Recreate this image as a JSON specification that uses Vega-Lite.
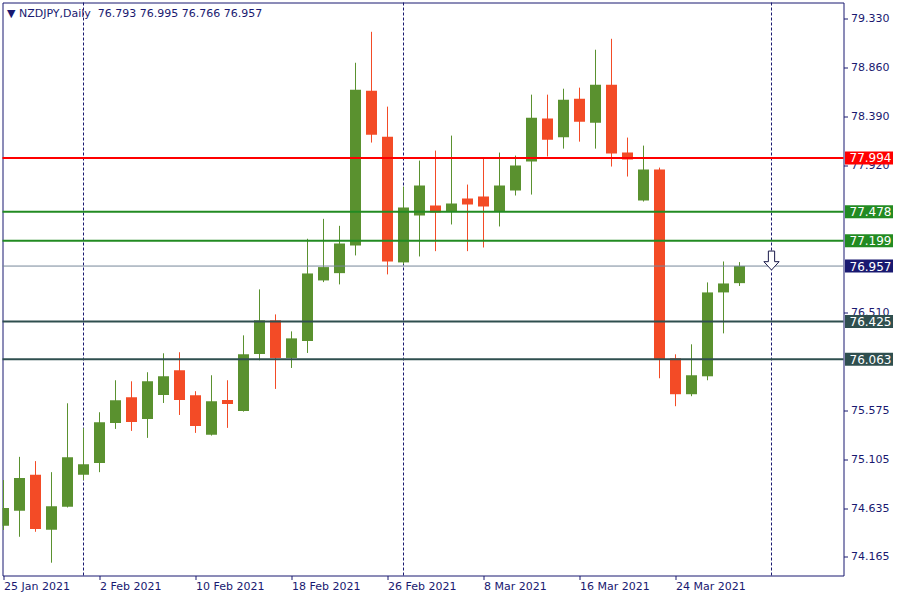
{
  "$schema": "https://vega.github.io/schema/vega-lite/v6.json",
  "width": 841,
  "height": 573,
  "autosize": {"type": "none"},
  "padding": {"left": 2.5, "top": 2.5, "right": 56.5, "bottom": 24.5},
  "background": "#ffffff",
  "config": {
    "view": {"stroke": "#191970", "strokeWidth": 1},
    "font": "DejaVu Sans",
    "scale": {"continuousPadding": 0},
    "axisX": {
      "labelExpr": "['25 Jan 2021','2 Feb 2021','10 Feb 2021','18 Feb 2021','26 Feb 2021','8 Mar 2021','16 Mar 2021','24 Mar 2021'][round(datum.value/6)]",
      "labelAlign": "left",
      "labelBaseline": "top",
      "labelPadding": 1,
      "labelFlush": false,
      "labelOverlap": false,
      "labelBound": false,
      "labelFont": "DejaVu Sans",
      "labelFontSize": 11,
      "labelColor": "#191970",
      "tickColor": "#191970",
      "tickSize": 4,
      "domain": false,
      "grid": false,
      "title": null
    },
    "axisY": {
      "format": ".3f",
      "labelPadding": 3,
      "labelFont": "DejaVu Sans",
      "labelFontSize": 11,
      "labelColor": "#191970",
      "labelBaseline": "middle",
      "labelAlign": "left",
      "labelOverlap": false,
      "labelBound": false,
      "labelFlush": false,
      "tickColor": "#191970",
      "tickSize": 4,
      "domain": false,
      "grid": false,
      "title": null
    }
  },
  "title": {
    "text": "▼ NZDJPY,Daily\u00a0\u00a076.793 76.995 76.766 76.957",
    "anchor": "start",
    "frame": "group",
    "orient": "top",
    "offset": 0,
    "dx": 4.5,
    "dy": 23,
    "baseline": "middle",
    "font": "DejaVu Sans",
    "fontSize": 11,
    "fontWeight": "normal",
    "color": "#191970"
  },
  "datasets": {
    "candles": [
      {"i": 0, "date": "2021-01-25", "o": 74.465, "h": 74.903, "l": 74.424, "c": 74.634},
      {"i": 1, "date": "2021-01-26", "o": 74.608, "h": 75.126, "l": 74.359, "c": 74.922},
      {"i": 2, "date": "2021-01-27", "o": 74.953, "h": 75.085, "l": 74.407, "c": 74.433},
      {"i": 3, "date": "2021-01-28", "o": 74.426, "h": 74.979, "l": 74.110, "c": 74.653},
      {"i": 4, "date": "2021-01-29", "o": 74.647, "h": 75.640, "l": 74.640, "c": 75.123},
      {"i": 5, "date": "2021-02-01", "o": 74.953, "h": 75.401, "l": 74.903, "c": 75.056},
      {"i": 6, "date": "2021-02-02", "o": 75.068, "h": 75.554, "l": 74.979, "c": 75.458},
      {"i": 7, "date": "2021-02-03", "o": 75.452, "h": 75.861, "l": 75.394, "c": 75.669},
      {"i": 8, "date": "2021-02-04", "o": 75.698, "h": 75.851, "l": 75.375, "c": 75.461},
      {"i": 9, "date": "2021-02-05", "o": 75.490, "h": 75.938, "l": 75.308, "c": 75.851},
      {"i": 10, "date": "2021-02-08", "o": 75.720, "h": 76.120, "l": 75.643, "c": 75.899},
      {"i": 11, "date": "2021-02-09", "o": 75.957, "h": 76.130, "l": 75.528, "c": 75.672},
      {"i": 12, "date": "2021-02-10", "o": 75.717, "h": 75.756, "l": 75.356, "c": 75.423},
      {"i": 13, "date": "2021-02-11", "o": 75.337, "h": 75.909, "l": 75.330, "c": 75.660},
      {"i": 14, "date": "2021-02-12", "o": 75.672, "h": 75.861, "l": 75.404, "c": 75.634},
      {"i": 15, "date": "2021-02-15", "o": 75.567, "h": 76.292, "l": 75.560, "c": 76.110},
      {"i": 16, "date": "2021-02-16", "o": 76.113, "h": 76.733, "l": 76.053, "c": 76.436},
      {"i": 17, "date": "2021-02-17", "o": 76.436, "h": 76.493, "l": 75.778, "c": 76.075},
      {"i": 18, "date": "2021-02-18", "o": 76.075, "h": 76.330, "l": 75.979, "c": 76.263},
      {"i": 19, "date": "2021-02-19", "o": 76.238, "h": 77.219, "l": 76.123, "c": 76.886},
      {"i": 20, "date": "2021-02-22", "o": 76.819, "h": 77.410, "l": 76.803, "c": 76.947},
      {"i": 21, "date": "2021-02-23", "o": 76.889, "h": 77.343, "l": 76.781, "c": 77.174},
      {"i": 22, "date": "2021-02-24", "o": 77.155, "h": 78.908, "l": 77.059, "c": 78.650},
      {"i": 23, "date": "2021-02-25", "o": 78.640, "h": 79.205, "l": 78.142, "c": 78.218},
      {"i": 24, "date": "2021-02-26", "o": 78.199, "h": 78.487, "l": 76.877, "c": 77.001},
      {"i": 25, "date": "2021-03-01", "o": 76.992, "h": 77.720, "l": 76.975, "c": 77.519},
      {"i": 26, "date": "2021-03-02", "o": 77.442, "h": 77.969, "l": 77.049, "c": 77.730},
      {"i": 27, "date": "2021-03-03", "o": 77.538, "h": 78.065, "l": 77.100, "c": 77.471},
      {"i": 28, "date": "2021-03-04", "o": 77.480, "h": 78.209, "l": 77.356, "c": 77.557},
      {"i": 29, "date": "2021-03-05", "o": 77.605, "h": 77.739, "l": 77.100, "c": 77.548},
      {"i": 30, "date": "2021-03-08", "o": 77.624, "h": 77.988, "l": 77.135, "c": 77.528},
      {"i": 31, "date": "2021-03-09", "o": 77.478, "h": 78.046, "l": 77.337, "c": 77.730},
      {"i": 32, "date": "2021-03-10", "o": 77.682, "h": 78.017, "l": 77.634, "c": 77.921},
      {"i": 33, "date": "2021-03-11", "o": 77.960, "h": 78.602, "l": 77.643, "c": 78.381},
      {"i": 34, "date": "2021-03-12", "o": 78.372, "h": 78.602, "l": 78.008, "c": 78.170},
      {"i": 35, "date": "2021-03-15", "o": 78.193, "h": 78.659, "l": 78.084, "c": 78.554},
      {"i": 36, "date": "2021-03-16", "o": 78.563, "h": 78.669, "l": 78.151, "c": 78.343},
      {"i": 37, "date": "2021-03-17", "o": 78.333, "h": 79.033, "l": 78.084, "c": 78.698},
      {"i": 38, "date": "2021-03-18", "o": 78.698, "h": 79.138, "l": 77.912, "c": 78.036},
      {"i": 39, "date": "2021-03-19", "o": 78.046, "h": 78.190, "l": 77.816, "c": 77.979},
      {"i": 40, "date": "2021-03-22", "o": 77.586, "h": 78.113, "l": 77.576, "c": 77.883},
      {"i": 41, "date": "2021-03-23", "o": 77.883, "h": 77.902, "l": 75.880, "c": 76.065},
      {"i": 42, "date": "2021-03-24", "o": 76.072, "h": 76.110, "l": 75.612, "c": 75.727},
      {"i": 43, "date": "2021-03-25", "o": 75.727, "h": 76.206, "l": 75.708, "c": 75.909},
      {"i": 44, "date": "2021-03-26", "o": 75.899, "h": 76.800, "l": 75.861, "c": 76.704},
      {"i": 45, "date": "2021-03-29", "o": 76.704, "h": 77.001, "l": 76.311, "c": 76.790},
      {"i": 46, "date": "2021-03-30", "o": 76.793, "h": 76.995, "l": 76.766, "c": 76.957}
    ],
    "months": [
      {"i": 5, "date": "2021-02-01"},
      {"i": 25, "date": "2021-03-01"},
      {"i": 48, "date": "2021-04-01"}
    ],
    "levels": [
      {"name": "77.994", "v": 77.994},
      {"name": "77.478", "v": 77.478},
      {"name": "77.199", "v": 77.199},
      {"name": "76.957", "v": 76.957},
      {"name": "76.425", "v": 76.425},
      {"name": "76.063", "v": 76.063}
    ],
    "signal": [
      {"i": 48, "v": 77.01}
    ]
  },
  "layer": [
    {
      "data": {"name": "months"},
      "mark": {"type": "rule", "stroke": "#191970", "strokeWidth": 1, "strokeDash": [3, 2]},
      "encoding": {
        "x": {"field": "i", "type": "quantitative", "scale": {"domain": [-0.0625, 52.5], "nice": false, "zero": false, "padding": 0}, "axis": {"orient": "bottom", "title": null, "values": [0, 6, 12, 18, 24, 30, 36, 42]}}
      }
    },
    {
      "data": {"name": "candles"},
      "mark": {"type": "rule", "strokeWidth": 1, "clip": true},
      "encoding": {
        "x": {"field": "i", "type": "quantitative", "scale": {"domain": [-0.0625, 52.5], "nice": false, "zero": false, "padding": 0}, "axis": {"orient": "bottom", "title": null, "values": [0, 6, 12, 18, 24, 30, 36, 42]}},
        "y": {"field": "l", "type": "quantitative", "scale": {"domain": [73.9873, 79.4863], "nice": false, "zero": false, "padding": 0}, "axis": {"orient": "right", "title": null, "values": [79.33, 78.86, 78.39, 77.92, 76.51, 75.575, 75.105, 74.635, 74.165]}},
        "y2": {"field": "h"},
        "color": {"condition": {"test": "datum.c >= datum.o", "value": "#5a912f"}, "value": "#f34b26"}
      }
    },
    {
      "data": {"name": "candles"},
      "mark": {"type": "bar", "orient": "vertical", "size": 11, "clip": true},
      "encoding": {
        "x": {"field": "i", "type": "quantitative", "scale": {"domain": [-0.0625, 52.5], "nice": false, "zero": false, "padding": 0}, "axis": {"orient": "bottom", "title": null, "values": [0, 6, 12, 18, 24, 30, 36, 42]}},
        "y": {"field": "o", "type": "quantitative", "scale": {"domain": [73.9873, 79.4863], "nice": false, "zero": false, "padding": 0}, "axis": {"orient": "right", "title": null, "values": [79.33, 78.86, 78.39, 77.92, 76.51, 75.575, 75.105, 74.635, 74.165]}},
        "y2": {"field": "c"},
        "color": {"condition": {"test": "datum.c >= datum.o", "value": "#5a912f"}, "value": "#f34b26"}
      }
    },
    {
      "data": {"name": "levels"},
      "mark": {"type": "rule"},
      "encoding": {
        "y": {"field": "v", "type": "quantitative", "scale": {"domain": [73.9873, 79.4863], "nice": false, "zero": false, "padding": 0}, "axis": {"orient": "right", "title": null, "values": [79.33, 78.86, 78.39, 77.92, 76.51, 75.575, 75.105, 74.635, 74.165]}},
        "color": {
          "condition": {"test": "datum.name == '76.957'", "value": "#778899"},
          "field": "name", "type": "nominal",
          "scale": {"domain": ["77.994", "77.478", "77.199", "76.957", "76.425", "76.063"], "range": ["#ff0000", "#228b22", "#228b22", "#191970", "#2f4f4f", "#2f4f4f"]},
          "legend": null
        },
        "strokeWidth": {"condition": {"test": "datum.name == '76.957'", "value": 1}, "value": 2}
      }
    },
    {
      "data": {"name": "signal"},
      "mark": {
        "type": "point",
        "shape": "M -0.33 -1 L 0.33 -1 L 0.33 0.12 L 0.8 0.12 L 0 1 L -0.8 0.12 L -0.33 0.12 Z",
        "size": 361,
        "filled": true,
        "fill": "#ffffff",
        "stroke": "#1a1a4a",
        "strokeWidth": 1,
        "opacity": 1
      },
      "encoding": {
        "x": {"field": "i", "type": "quantitative", "scale": {"domain": [-0.0625, 52.5], "nice": false, "zero": false, "padding": 0}, "axis": {"orient": "bottom", "title": null, "values": [0, 6, 12, 18, 24, 30, 36, 42]}},
        "y": {"field": "v", "type": "quantitative", "scale": {"domain": [73.9873, 79.4863], "nice": false, "zero": false, "padding": 0}, "axis": {"orient": "right", "title": null, "values": [79.33, 78.86, 78.39, 77.92, 76.51, 75.575, 75.105, 74.635, 74.165]}}
      }
    },
    {
      "data": {"name": "levels"},
      "mark": {"type": "bar", "orient": "horizontal", "size": 13},
      "encoding": {
        "y": {"field": "v", "type": "quantitative", "scale": {"domain": [73.9873, 79.4863], "nice": false, "zero": false, "padding": 0}, "axis": {"orient": "right", "title": null, "values": [79.33, 78.86, 78.39, 77.92, 76.51, 75.575, 75.105, 74.635, 74.165]}},
        "x": {"datum": 52.594, "type": "quantitative", "scale": {"domain": [-0.0625, 52.5], "nice": false, "zero": false, "padding": 0}, "axis": {"orient": "bottom", "title": null, "values": [0, 6, 12, 18, 24, 30, 36, 42]}},
        "x2": {"datum": 55.594},
        "color": {
          "field": "name", "type": "nominal",
          "scale": {"domain": ["77.994", "77.478", "77.199", "76.957", "76.425", "76.063"], "range": ["#ff0000", "#228b22", "#228b22", "#191970", "#2f4f4f", "#2f4f4f"]},
          "legend": null
        }
      }
    },
    {
      "data": {"name": "levels"},
      "mark": {"type": "text", "align": "left", "baseline": "middle", "font": "DejaVu Sans", "fontSize": 12, "color": "#ffffff", "dy": 0.5},
      "encoding": {
        "y": {"field": "v", "type": "quantitative", "scale": {"domain": [73.9873, 79.4863], "nice": false, "zero": false, "padding": 0}, "axis": {"orient": "right", "title": null, "values": [79.33, 78.86, 78.39, 77.92, 76.51, 75.575, 75.105, 74.635, 74.165]}},
        "x": {"datum": 52.875, "type": "quantitative", "scale": {"domain": [-0.0625, 52.5], "nice": false, "zero": false, "padding": 0}, "axis": {"orient": "bottom", "title": null, "values": [0, 6, 12, 18, 24, 30, 36, 42]}},
        "text": {"field": "name", "type": "nominal"}
      }
    }
  ]
}
